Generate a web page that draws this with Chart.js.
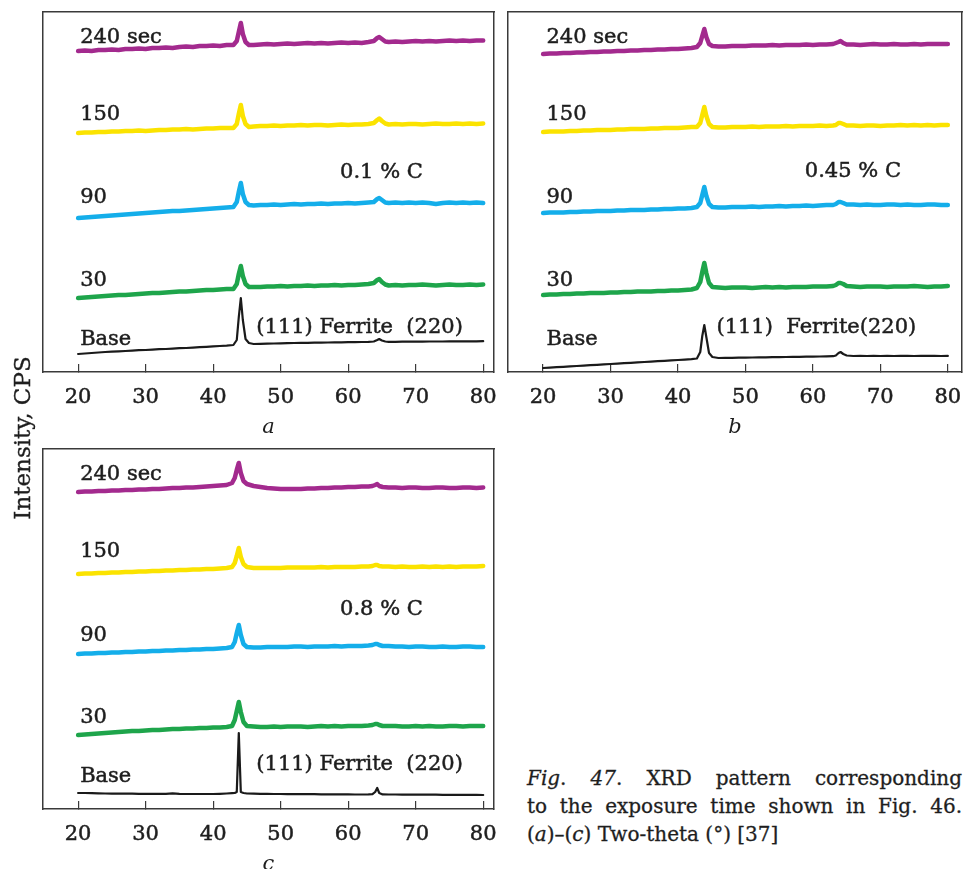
<!DOCTYPE html>
<html>
<head>
<meta charset="utf-8">
<script src="https://cdn.jsdelivr.net/npm/chart.js@4.4.1/dist/chart.umd.min.js"></script>
<style>
  html, body { margin:0; padding:0; background:#fff; width:965px; height:869px; overflow:hidden; }
  .panel { position:absolute; }
  #ytitle { position:absolute; left:-107px; top:424px; width:260px; height:28px; line-height:28px;
    text-align:center; transform:rotate(-90deg); font:23px 'DejaVu Serif'; color:#1e1e1e; -webkit-text-stroke:0.3px #1e1e1e; }
  #cap { position:absolute; left:527px; top:764px; width:435px; font:20px 'DejaVu Serif'; color:#1e1e1e; line-height:28px; -webkit-text-stroke:0.3px #1e1e1e; }
  #cap .j { text-align:justify; text-align-last:justify; white-space:nowrap; }
</style>
</head>
<body>
<div class="panel" style="left:33px;top:0px;width:470px;height:440px"><canvas id="ca" width="470" height="440"></canvas></div>
<div class="panel" style="left:498px;top:0px;width:467px;height:440px"><canvas id="cb" width="467" height="440"></canvas></div>
<div class="panel" style="left:33px;top:437px;width:470px;height:440px"><canvas id="cc" width="470" height="440"></canvas></div>
<div id="ytitle">Intensity, CPS</div>
<div id="cap">
  <div class="j"><i>Fig</i>. <i>47</i>. XRD pattern corresponding</div>
  <div class="j">to the exposure time shown in Fig. 46.</div>
  <div>(<i>a</i>)–(<i>c</i>) Two-theta (°) [37]</div>
</div>
<script>
// ---------- DATA ----------
const xTicks = [20, 30, 40, 50, 60, 70, 80];
const seriesNames = ['240 sec', '150', '90', '30', 'Base'];
const panelLetters = ['a', 'b', 'c'];
const compositions = ['0.1 % C', '0.45 % C', '0.8 % C'];
const peakLabels = ['(111) Ferrite  (220)', '(111)  Ferrite(220)', '(111) Ferrite  (220)'];

// Two-theta grids (degrees)
const xA = [20,21,22,23,24,25,26,27,28,29,30,31,32,33,34,35,36,37,38,39,40,41,42,
  43,43.5,43.8,44.1,44.4,44.8,45.3,
  46,47,48,49,50,51,52,53,54,55,56,57,58,59,60,61,62,63,
  63.8,64.3,64.6,65.0,65.5,
  66,67,68,69,70,71,72,73,74,75,76,77,78,79,80];
const xB = [20,21,22,23,24,25,26,27,28,29,30,31,32,33,34,35,36,37,38,39,40,41,42,
  42.8,43.3,43.6,43.9,44.2,44.6,45.1,
  46,47,48,49,50,51,52,53,54,55,56,57,58,59,60,61,62,63,
  63.4,63.8,64.1,64.5,65,
  66,67,68,69,70,71,72,73,74,75,76,77,78,79,80];
const xC = [20,21,22,23,24,25,26,27,28,29,30,31,32,33,34,35,36,37,38,39,40,41,42,
  42.8,43.2,43.5,43.8,44.1,44.5,45,
  46,47,48,49,50,51,52,53,54,55,56,57,58,59,60,61,62,63,
  63.6,64.0,64.3,64.6,65.1,
  66,67,68,69,70,71,72,73,74,75,76,77,78,79,80];

// Panel a: 0.1 % C (intensity, arbitrary offset units)
const a240 = [321,321.5,321,322,322,322.5,322,323,323,323.5,323,324,324,324.5,324,325,325.5,325,326,326,326.5,326,327,
  327,331,340,349,338,330,327,
  327,327.5,328,327.5,328,328.5,328,328.5,329,328.5,329,328.5,329,329.5,329,329.5,329,330,
  331,334,335,333,330.5,
  330,330.5,330,330.5,331,330.5,331,330.5,331,331.5,331,331.5,331,331.5,331.5];
const a150 = [239,239.5,239.5,240,240,240.5,240.5,241,241,241.5,241,241.5,242,242,242.5,242.5,243,242.5,243,243.5,243.5,244,244,
  244,248,258,267,256,248,245,
  245.5,246,246,246.5,246,246.5,246.5,247,246.5,247,247,246.5,247,247.5,247,247.5,247.5,248,
  249,252,253.5,251,248.5,
  247.5,248,247.5,248,248,247.5,248,248.5,248,248,248.5,248,248.5,248,248.5];
const a90 = [154,154.5,155,155.5,156,156.5,157,157.5,158,158.5,159,159.5,160,160.5,161,161,161.5,162,162.5,163,163.5,164,164.5,
  165,170,180,189,178,170,167,
  166.5,167,167,167.5,167,167.5,168,167.5,168,168,168.5,168,168.5,168.5,169,168.5,169,169.5,
  170,173,174,172,169.5,
  169,169.5,169,169.5,169,169.5,169,168,169,169.5,169,169.5,169,169.5,169];
const a30 = [74,74.5,75,75.5,76,76.5,77,77,77.5,78,78.5,79,79,79.5,80,80.5,80.5,81,81.5,82,82,82.5,83,
  83,88,98,106,96,88,85,
  85,85,85.5,85.5,86,85.5,86,86,86.5,86,86.5,86.5,87,86.5,87,87,87.5,88,
  89,92,93,90,87.5,
  86.5,87,86.5,87,87,87.5,87,86.5,87,87.5,87,87,87.5,87,87.5];
const aBase = [18,18.5,19,19.5,20,20.3,20.7,21,21.4,21.8,22,22.4,22.8,23,23.4,23.8,24,24.4,24.8,25.2,25.6,26,26.4,
  27,32,55,74,52,33,29,
  28,28.2,28.4,28.5,28.7,28.8,29,29.1,29.2,29.3,29.4,29.5,29.6,29.7,29.8,29.9,30,30.1,
  30.5,32,33,31.5,30.5,
  30.2,30.2,30.3,30.3,30.4,30.4,30.5,30.5,30.5,30.6,30.6,30.6,30.7,30.7,30.8];

// Panel b: 0.45 % C
const b240 = [318,318.5,318.5,319,319,319.5,319.5,320,320,320.5,320.5,321,321,321.5,321.5,322,322,322.5,322.5,323,323,323.5,324,
  325,329,336,343,335,328,326,
  325.5,325.5,326,326,326,326.5,326.5,326.5,327,326.5,327,327,327,327.5,327,327.5,327.5,328,
  329,330,331,329,327.5,
  327.5,327,327.5,328,327.5,327.5,328,327.5,327.5,328,327.5,328,328,328,328];
const b150 = [240,240.5,240.5,240.5,241,241,241.5,241.5,242,242,242,242.5,242.5,243,243,243,243.5,243.5,244,244,244,244.5,245,
  245,249,257,265,256,248,245,
  244.5,244.5,245,245,245,245.5,245,245.5,245.5,245.5,246,245.5,246,246,246,246.5,246,246.5,
  247,249,249,248,246.5,
  246.5,246,246.5,246.5,246,246.5,246.5,247,246.5,247,246.5,247,246.5,247,247];
const b90 = [159,159.5,159.5,159.5,160,160,160.5,160.5,161,161,161,161.5,161.5,162,162,162,162.5,162.5,163,163,163.5,163.5,164,
  165,169,177,185,176,168,165,
  164.5,164.5,165,165,165,165.5,165,165.5,165.5,166,165.5,166,166,166.5,166,166.5,167,167,
  168,170,170,169,167.5,
  167.5,167,167.5,167,167,167.5,167.5,167,167.5,167,167,167.5,167.5,167,167];
const b30 = [77,77.5,77.5,78,78,78.5,78.5,79,79,79,79.5,79.5,80,80,80.5,80.5,80.5,81,81,81.5,81.5,82,82.5,
  84,90,100,109,99,89,85,
  84.5,84,84.5,84.5,84.5,84,84.5,85,84.5,85,84.5,85,85,85,85.5,85.5,85.5,86,
  87,89,89,88,86,
  85.5,85,85.5,85.5,85.5,85,85.5,85.5,85.5,86,85.5,85,85.5,85.5,86];
const bBase = [4,4.4,4.8,5.2,5.6,6,6.4,6.8,7.2,7.6,8,8.4,8.8,9.2,9.6,10,10.4,10.8,11.2,11.6,12,12.4,12.8,
  13.5,20,36,47,35,19,15,
  14,14.1,14.2,14.3,14.4,14.5,14.6,14.7,14.8,14.9,15,15.1,15.2,15.3,15.4,15.5,15.6,15.8,
  16.5,19,20,18,16.5,
  16,16.1,16,16.1,16,16.1,16,16.2,16.1,16,16.1,16.2,16.1,16,16.1];

// Panel c: 0.8 % C
const c240 = [317,317.5,317.5,318,318,318.5,318.5,319,319,319.5,319.5,320,320,320.5,321,321,321.5,321.5,322,322.5,323,323.5,324,
  326,331,339,346,336,328,325,
  323,322,321,320.5,320,320,320,320,320.5,320.5,321,321,321.5,321.5,322,322,322.5,322.5,
  323,324,325,323,322,
  321.5,321.5,321,321.5,321.5,321,321,321.5,321.5,321,321,321.5,321.5,321,321.5];
const c150 = [235,235.5,235.5,236,236,236.5,236.5,237,237,237.5,237.5,238,238,238.5,238.5,239,239,239.5,239.5,240,240,240.5,241,
  242,246,253,261,252,245,242,
  241,241,241,241,241,241.5,241.5,241.5,241.5,241.5,242,241.5,242,242,242,242,242.5,242.5,
  243,244,244,243,242.5,
  242.5,242,242.5,242,242,242.5,242,242.5,242,242.5,242,242.5,242.5,242.5,243];
const c90 = [155,155.5,155.5,156,156,156.5,156.5,157,157,157.5,157.5,158,158,158.5,158.5,159,159,159.5,159.5,160,160,160.5,161,
  162,167,176,184,174,165,162,
  161.5,161.5,162,162,162,162,162.5,162.5,162,162.5,162.5,162.5,163,162.5,163,163,163,163.5,
  164,165,165,164,163,
  163,162.5,162.5,162,162.5,162.5,162,162,162.5,162,162,162.5,162.5,162,162];
const c30 = [74,74.5,75,75.5,76,76.5,77,77.5,78,78,78.5,79,79,79.5,80,80,80.5,80.5,81,81,81.5,81.5,82,
  83,89,98,107,97,87,83,
  82.5,82,82,82.5,82,82.5,82.5,82.5,82,82.5,83,82.5,83,82.5,83,83,83,83.5,
  84,85,85,84,83,
  83,83,82.5,82.5,83,82.5,83,82.5,82.5,83,83,82.5,83,83,83];
const cBase = [16,16,15.8,15.6,15.5,15.4,15.4,15.3,15.3,15.2,15.2,15.2,15.1,15.1,15.6,15.1,15,15,15,15,15,15.2,15.5,
  15.8,16,17,76,17,16,15.5,
  15.3,15.2,15.1,15,15,14.9,14.9,14.8,14.8,14.8,14.7,14.7,14.6,14.6,14.6,14.5,14.5,14.6,
  14.8,17,21,16,14.6,
  14.5,14.5,14.4,14.4,14.4,14.3,14.3,14.3,14.2,14.2,14.2,14.1,14.1,14.1,14];

// ---------- STYLE / LAYOUT ----------
const colors = ['#a32a8e', '#fbe300', '#14aeea', '#1ea54b', '#1a1a1a'];
const widths = [4.5, 4.5, 4.5, 4.5, 2.2];
const FONT = "'DejaVu Serif'";
const TXT = '#1e1e1e';
const frameColor = '#3a3a3a';

const panelText = {
  id: 'panelText',
  afterDatasetsDraw(chart, args, opts) {
    const ctx = chart.ctx, xs = chart.scales.x, ys = chart.scales.y;
    ctx.save();
    ctx.font = opts.font;
    ctx.fillStyle = opts.color;
    ctx.strokeStyle = opts.color;
    ctx.lineWidth = 0.5;
    ctx.textAlign = 'left';
    ctx.textBaseline = 'alphabetic';
    for (const it of opts.items) {
      const px = xs.getPixelForValue(it.x), py = ys.getPixelForValue(it.y);
      ctx.fillText(it.text, px, py);
      ctx.strokeText(it.text, px, py);
    }
    ctx.restore();
  }
};

function makePanel(canvasId, xs, ys, letter, comp, peak, xMax, layoutPad, labelPos) {
  const datasets = ys.map((arr, i) => ({
    label: seriesNames[i],
    data: arr.map((v, k) => ({ x: xs[k], y: v })),
    borderColor: colors[i],
    borderWidth: widths[i],
    pointRadius: 0,
    tension: 0,
    borderJoinStyle: 'round',
    borderCapStyle: 'round',
    fill: false
  }));
  const items = seriesNames.map((t, i) => ({ text: t, x: labelPos.sx, y: labelPos.sy[i] }));
  items.push({ text: comp, x: labelPos.cx, y: labelPos.cy });
  items.push({ text: peak, x: labelPos.px, y: labelPos.py });
  new Chart(document.getElementById(canvasId), {
    type: 'line',
    data: { datasets },
    options: {
      responsive: false,
      animation: false,
      layout: { padding: layoutPad },
      plugins: {
        legend: { display: false },
        tooltip: { enabled: false },
        panelText: { font: '21px ' + FONT, color: TXT, items }
      },
      scales: {
        x: {
          type: 'linear', position: 'bottom', min: 14.8, max: xMax,
          afterBuildTicks: s => { s.ticks = xTicks.map(v => ({ value: v })); },
          afterFit: s => { s.height = 68; },
          grid: { display: true, drawOnChartArea: false, drawTicks: true, tickLength: -8, color: frameColor, lineWidth: 1.2 },
          border: { display: true, color: frameColor, width: 1.5 },
          ticks: { padding: 0, color: TXT, textStrokeColor: TXT, textStrokeWidth: 0.5,
                   font: { family: FONT, size: 21, lineHeight: 3.2 }, maxRotation: 0, callback: v => String(v) },
          title: { display: true, text: letter, color: TXT, padding: { top: 0, bottom: 0 }, font: { family: FONT, size: 21, style: 'italic' } }
        },
        xTop: {
          type: 'linear', position: 'top', min: 14.8, max: xMax,
          afterFit: s => { s.height = 0; },
          grid: { display: false }, ticks: { display: false },
          border: { display: true, color: frameColor, width: 1.5 }
        },
        y: {
          type: 'linear', position: 'left', min: 0, max: 360,
          afterFit: s => { s.width = 0; },
          grid: { display: false }, ticks: { display: false },
          border: { display: true, color: frameColor, width: 1.5 }
        },
        yRight: {
          type: 'linear', position: 'right', min: 0, max: 360,
          afterFit: s => { s.width = 0; },
          grid: { display: false }, ticks: { display: false },
          border: { display: true, color: frameColor, width: 1.5 }
        }
      }
    },
    plugins: [panelText]
  });
}

makePanel('ca', xA, [a240, a150, a90, a30, aBase], panelLetters[0], compositions[0], peakLabels[0], 81.6,
  { left: 10, right: 9, top: 12, bottom: 0 },
  { sx: 20.3, sy: [329, 252, 169, 86, 27], cx: 58.8, cy: 194, px: 46.4, py: 39 });
makePanel('cb', xB, [b240, b150, b90, b30, bBase], panelLetters[1], compositions[1], peakLabels[1], 82.1,
  { left: 10, right: 3, top: 12, bottom: 0 },
  { sx: 20.5, sy: [329, 252, 169, 86, 27], cx: 58.8, cy: 195, px: 45.7, py: 39 });
makePanel('cc', xC, [c240, c150, c90, c30, cBase], panelLetters[2], compositions[2], peakLabels[2], 81.6,
  { left: 10, right: 9, top: 12, bottom: 0 },
  { sx: 20.3, sy: [329, 252, 168, 86, 27], cx: 58.8, cy: 194, px: 46.4, py: 39 });
</script>
</body>
</html>
